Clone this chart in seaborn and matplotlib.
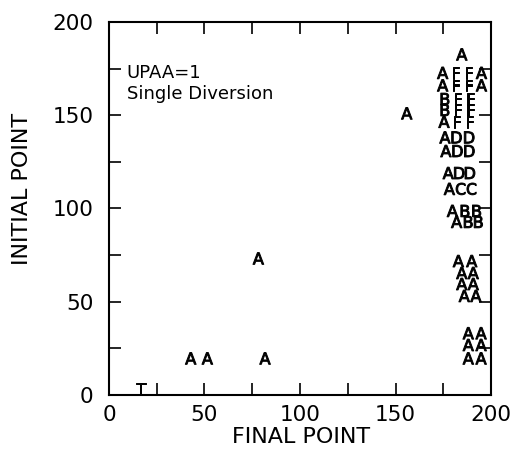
import matplotlib
matplotlib.use("Agg")
import matplotlib.pyplot as plt
import pandas as pd
import seaborn as sns
from matplotlib.ticker import MultipleLocator

# Plot symbols: A = 1 obs, B = 2 obs, C = 3 obs, ...
# One entry per printed row: initial point, final points, and the symbols on that row.
row_initial = [182.6, 172.7, 166.0, 158.7, 152.8, 146.5, 138.1, 130.8, 119.0,
               110.5, 98.7, 92.8, 71.8, 65.4, 59.5, 53.1, 33.1, 26.8, 19.6,
               151.0, 73.2, 19.6, 3.2]
row_final = [
    [184.7],
    [174.7, 181.7, 188.5, 195.0],
    [174.7, 181.7, 188.5, 195.0],
    [175.9, 182.7, 189.4],
    [175.9, 182.7, 189.4],
    [175.4, 182.2, 189.0],
    [175.9, 182.0, 188.6],
    [176.4, 182.5, 188.7],
    [177.6, 183.4, 189.0],
    [178.2, 184.1, 189.8],
    [179.8, 186.4, 192.5],
    [182.0, 188.1, 193.4],
    [182.9, 189.9],
    [184.7, 190.7],
    [184.7, 190.7],
    [186.0, 192.1],
    [188.1, 194.8],
    [188.1, 194.8],
    [188.1, 194.8],
    [155.9],
    [78.2],
    [42.8, 51.5, 81.7],
    [16.6],
]
row_symbols = ["A", "AFFA", "AFFA", "BFF", "BFF", "AFF", "ADD", "ADD", "ADD",
               "ACC", "ABB", "ABB", "AA", "AA", "AA", "AA", "AA", "AA", "AA",
               "A", "A", "AAA", "T"]

axis_ticks = [0, 50, 100, 150, 200]
annotation = ["UPAA=1", "Single Diversion"]

final_point, initial_point, symbol = [], [], []
for y, xs, syms in zip(row_initial, row_final, row_symbols):
    for x, s in zip(xs, syms):
        final_point.append(x)
        initial_point.append(y)
        symbol.append(s)

df = pd.DataFrame({"final": final_point, "initial": initial_point, "symbol": symbol})

sns.set_theme(style="ticks")
plt.rcParams["font.family"] = ["DejaVu Sans"]
plt.rcParams["mathtext.fontset"] = "dejavusans"
for key in ("text.color", "axes.labelcolor", "xtick.color", "ytick.color",
            "axes.edgecolor"):
    plt.rcParams[key] = "black"

fig = plt.figure(figsize=(5.18, 4.70), dpi=100)
ax = fig.add_axes([0.2104, 0.1596, 0.7375, 0.7936])

# each observation is drawn with its letter as the marker glyph
letter_markers = {s: rf"$\mathsf{{{s}}}$" for s in sorted(set(symbol))}
sns.scatterplot(data=df, x="final", y="initial", style="symbol",
                markers=letter_markers, color="black", edgecolor="black",
                s=72, linewidth=0.7, legend=False, ax=ax, zorder=3)

ax.set_xlim(axis_ticks[0], axis_ticks[-1])
ax.set_ylim(axis_ticks[0], axis_ticks[-1])
ax.set_xticks(axis_ticks)
ax.set_yticks(axis_ticks)
ax.xaxis.set_minor_locator(MultipleLocator(25))
ax.yaxis.set_minor_locator(MultipleLocator(25))
ax.tick_params(which="both", direction="in", length=8.6, width=1.2,
               top=True, right=True, colors="black")
ax.tick_params(axis="both", which="major", labelsize=15.5)
ax.tick_params(axis="x", pad=7)
ax.tick_params(axis="y", pad=11)
for sp in ax.spines.values():
    sp.set_linewidth(1.5)
    sp.set_color("black")

ax.set_xlabel("FINAL POINT", fontsize=16, color="black")
ax.set_ylabel("INITIAL POINT", fontsize=16, color="black")
ax.xaxis.set_label_coords(0.504, -0.085)
ax.yaxis.set_label_coords(-0.2016, 0.552)

ax.text(0.046, 0.888, annotation[0], transform=ax.transAxes, fontsize=13,
        va="top", ha="left", color="black")
ax.text(0.046, 0.832, annotation[1], transform=ax.transAxes, fontsize=13,
        va="top", ha="left", color="black")

fig.savefig("out.png", dpi=100)
